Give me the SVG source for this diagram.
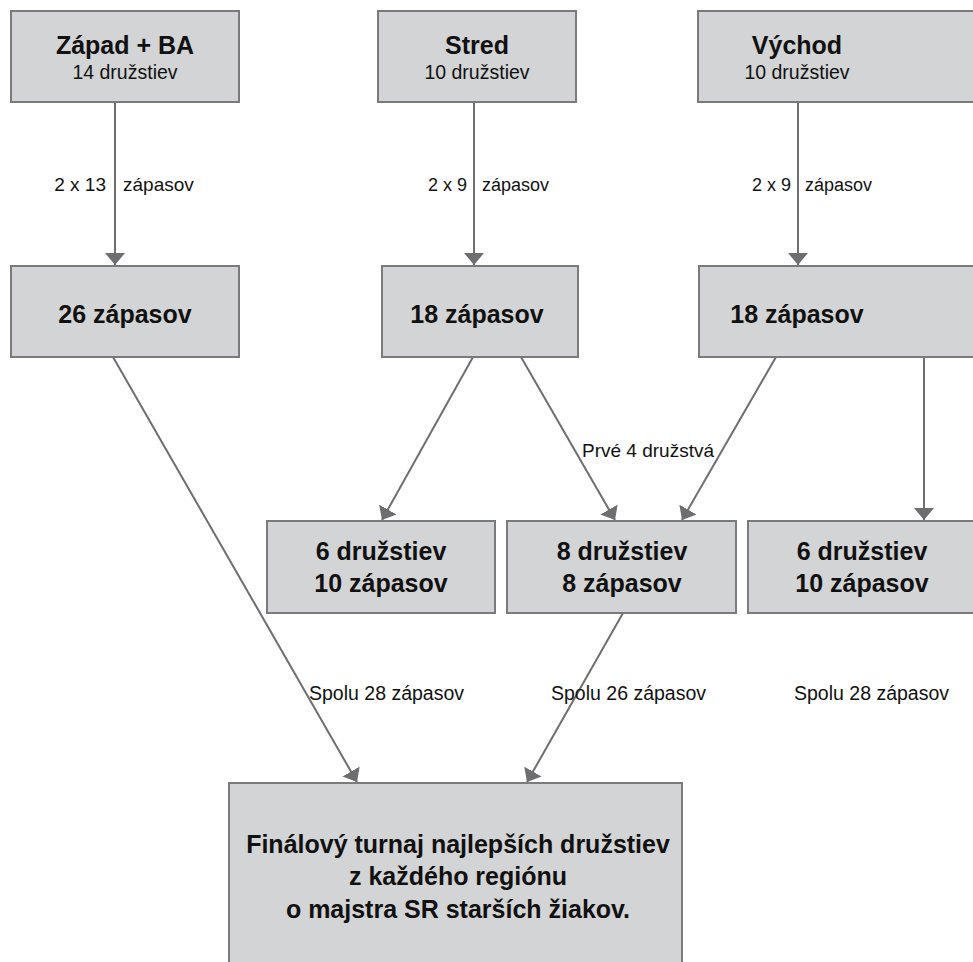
<svg xmlns="http://www.w3.org/2000/svg" width="973" height="962" viewBox="0 0 973 962">
<defs>
<style>
.box{fill:#d3d4d6;stroke:#7b7b7e;stroke-width:2}
.t{font-family:"Liberation Sans",Arial,sans-serif;fill:#111;text-anchor:middle}
.b{font-weight:bold;font-size:25px}
.s{font-size:19.5px}
.e{font-family:"Liberation Sans",Arial,sans-serif;fill:#111;font-size:18px}
.c{stroke:#6e6e71;stroke-width:2;fill:none;marker-end:url(#ah)}
</style>
<marker id="ah" markerUnits="userSpaceOnUse" viewBox="0 -10 12 20" markerWidth="12" markerHeight="20" refX="12" refY="0" orient="auto">
<path d="M0,-10 L12,0 L0,10 z" fill="#6e6e71"/>
</marker>
</defs>
<rect width="973" height="962" fill="#fff"/>
<g id="connectors">
<line class="c" x1="115" y1="102" x2="115" y2="265"/>
<line class="c" x1="474" y1="102" x2="474" y2="265"/>
<line class="c" x1="798" y1="102" x2="798" y2="265"/>
<line class="c" x1="473" y1="357" x2="382" y2="520"/>
<line class="c" x1="521" y1="357" x2="615" y2="520"/>
<line class="c" x1="776" y1="357" x2="682" y2="520"/>
<line class="c" x1="924" y1="357" x2="924" y2="520"/>
<line class="c" x1="113" y1="357" x2="357" y2="782"/>
<line class="c" x1="623" y1="613" x2="527" y2="782"/>
<text class="e" x="106" y="191" text-anchor="end" style="font-size:19px">2 x 13</text>
<text class="e" x="123" y="191" style="font-size:19px">zápasov</text>
<text class="e" x="467" y="191" text-anchor="end">2 x 9</text>
<text class="e" x="482" y="191">zápasov</text>
<text class="e" x="791" y="191" text-anchor="end">2 x 9</text>
<text class="e" x="805" y="191">zápasov</text>
<text class="e" x="582" y="457" style="font-size:19px">Prvé 4 družstvá</text>
<text class="e" x="309" y="700" style="font-size:19.5px">Spolu 28 zápasov</text>
<text class="e" x="551" y="700" style="font-size:19.5px">Spolu 26 zápasov</text>
<text class="e" x="794" y="700" style="font-size:19.5px">Spolu 28 zápasov</text>
</g>
<g id="zapad">
<rect class="box" x="11" y="11" width="228" height="91"/>
<text class="t b" x="125" y="54">Západ + BA</text>
<text class="t s" x="125" y="79">14 družstiev</text>
</g>
<g id="stred">
<rect class="box" x="378" y="11" width="198" height="91"/>
<text class="t b" x="477" y="54">Stred</text>
<text class="t s" x="477" y="79">10 družstiev</text>
</g>
<g id="vychod">
<rect class="box" x="698" y="11" width="290" height="91"/>
<text class="t b" x="797" y="54">Východ</text>
<text class="t s" x="797" y="79">10 družstiev</text>
</g>
<g id="zapad-zapasy">
<rect class="box" x="11" y="266" width="228" height="91"/>
<text class="t b" x="125" y="323">26 zápasov</text>
</g>
<g id="stred-zapasy">
<rect class="box" x="382" y="266" width="196" height="91"/>
<text class="t b" x="477" y="323">18 zápasov</text>
</g>
<g id="vychod-zapasy">
<rect class="box" x="699" y="266" width="290" height="91"/>
<text class="t b" x="797" y="323">18 zápasov</text>
</g>
<g id="skupina-a">
<rect class="box" x="267" y="521" width="228" height="92"/>
<text class="t b" x="381" y="560">6 družstiev</text>
<text class="t b" x="381" y="592">10 zápasov</text>
</g>
<g id="skupina-b">
<rect class="box" x="507" y="521" width="229" height="92"/>
<text class="t b" x="622" y="560">8 družstiev</text>
<text class="t b" x="622" y="592">8 zápasov</text>
</g>
<g id="skupina-c">
<rect class="box" x="748" y="521" width="240" height="92"/>
<text class="t b" x="862" y="560">6 družstiev</text>
<text class="t b" x="862" y="592">10 zápasov</text>
</g>
<g id="final">
<rect class="box" x="229" y="783" width="453" height="190"/>
<text class="t b" x="458" y="853">Finálový turnaj najlepších družstiev</text>
<text class="t b" x="458" y="885">z každého regiónu</text>
<text class="t b" x="458" y="918">o majstra SR starších žiakov.</text>
</g>
</svg>
